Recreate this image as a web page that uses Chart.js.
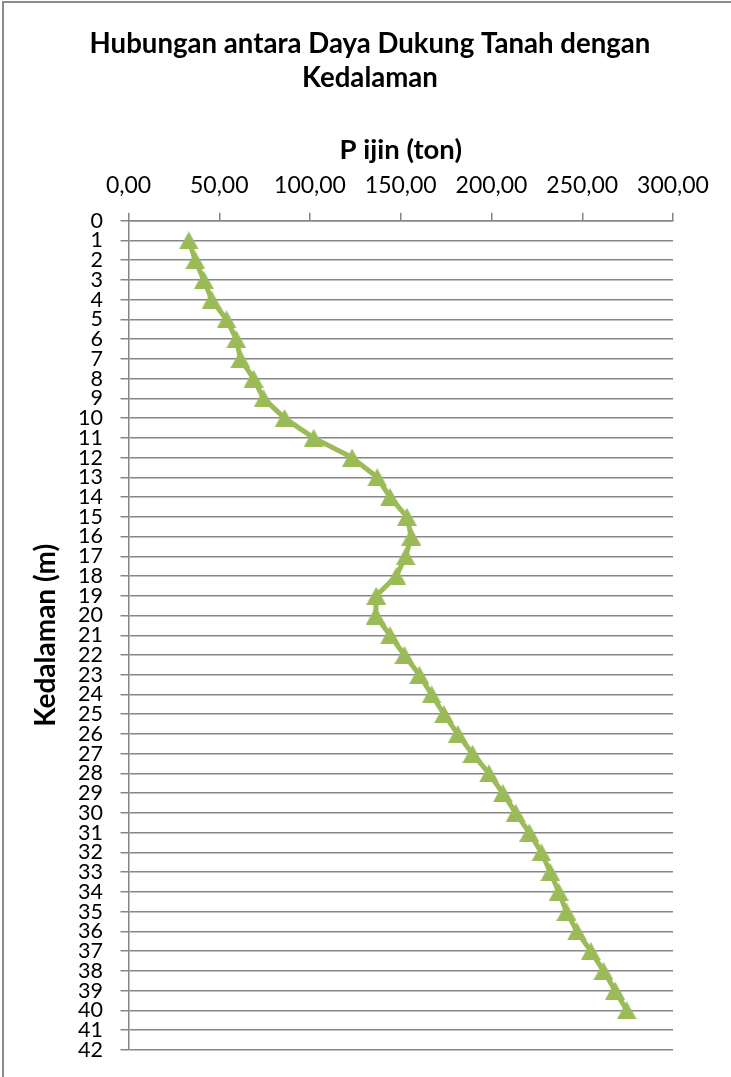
<!DOCTYPE html>
<html>
<head>
<meta charset="utf-8">
<script src="https://cdn.jsdelivr.net/npm/chart.js@4"></script>
<style>
  html, body { margin: 0; padding: 0; background: #fff; overflow: hidden; width: 731px; height: 1077px; }
  #frame { position: absolute; left: 2px; top: 1px; width: 760px; height: 1100px;
           border-left: 2px solid #8c8c8c; border-top: 2px solid #8c8c8c; }
  #wrap { position: absolute; left: 0; top: 0; width: 740px; height: 1077px; }
</style>
</head>
<body>
<div id="frame"></div>
<div id="wrap"><canvas id="chart" width="740" height="1077"></canvas></div>
<script>
// Depth below ground (m)
const kedalaman = [1, 2, 3, 4, 5, 6, 7, 8, 9, 10,
                   11, 12, 13, 14, 15, 16, 17, 18, 19, 20,
                   21, 22, 23, 24, 25, 26, 27, 28, 29, 30,
                   31, 32, 33, 34, 35, 36, 37, 38, 39, 40];

// Allowable bearing capacity P ijin (ton) at each depth
const pIjin = [33.2, 36.8, 41.5, 45.8, 54.0, 59.4, 61.7, 68.9, 74.4, 86.0,
               102.0, 123.2, 137.0, 144.1, 153.4, 155.8, 152.7, 147.6, 136.5, 136.2,
               144.1, 152.0, 160.2, 167.0, 173.8, 181.4, 189.5, 198.6, 206.3, 213.3,
               220.8, 227.5, 232.4, 237.0, 241.3, 247.1, 254.7, 261.7, 268.1, 274.5];

const chartTitle = ['Hubungan antara Daya Dukung Tanah dengan', 'Kedalaman'];
const xTitle = 'P ijin (ton)';
const yTitle = 'Kedalaman (m)';

const GREEN = '#9BBB59';
const GRID = '#868686';
const FONT = 'Lato';

// Triangle marker, centred on its bounding box
function triangleMarker(w, h, color) {
  const c = document.createElement('canvas');
  c.width = w; c.height = h;
  const g = c.getContext('2d');
  g.fillStyle = color;
  g.beginPath();
  g.moveTo(w / 2, 0);
  g.lineTo(w, h);
  g.lineTo(0, h);
  g.closePath();
  g.fill();
  return c;
}

const points = kedalaman.map((d, i) => ({ x: pIjin[i], y: d }));
const marker = triangleMarker(20, 18, GREEN);

new Chart(document.getElementById('chart'), {
  type: 'line',
  data: {
    datasets: [{
      data: points,
      borderColor: GREEN,
      backgroundColor: GREEN,
      borderWidth: 5,
      borderJoinStyle: 'round',
      borderCapStyle: 'round',
      pointStyle: marker,
      pointRadius: 10,
      pointHoverRadius: 10,
      fill: false,
      tension: 0,
      clip: false
    }]
  },
  options: {
    responsive: false,
    animation: false,
    layout: { padding: { left: 0, right: 0, top: 0, bottom: 26 } },
    plugins: {
      legend: { display: false },
      tooltip: { enabled: false },
      title: {
        display: true,
        text: chartTitle,
        color: '#000',
        font: { family: FONT, size: 27.6, weight: 'bold', lineHeight: 1.232 },
        padding: { top: 27, bottom: 0 }
      }
    },
    scales: {
      x: {
        type: 'linear',
        position: 'top',
        min: 0,
        max: 300,
        ticks: {
          stepSize: 50,
          color: '#000',
          padding: 15.2,
          font: { family: FONT, size: 23, lineHeight: 1.0 },
          callback: v => v.toFixed(2).replace('.', ',')
        },
        grid: {
          drawOnChartArea: false,
          drawTicks: true,
          tickLength: 8,
          color: GRID,
          lineWidth: 1.5
        },
        border: { display: true, color: GRID, width: 1.5 },
        title: {
          display: true,
          text: xTitle,
          color: '#000',
          font: { family: FONT, size: 27.5, weight: 'bold', lineHeight: 0.68 },
          padding: { top: 45.6, bottom: 0 }
        },
        afterFit: s => { s.paddingRight = 67; }
      },
      y: {
        type: 'linear',
        position: 'left',
        reverse: true,
        min: 0,
        max: 42,
        ticks: {
          stepSize: 1,
          autoSkip: false,
          color: '#000',
          padding: 17.5,
          font: { family: FONT, size: 21.5, lineHeight: 0.9 }
        },
        grid: {
          drawOnChartArea: true,
          drawTicks: true,
          tickLength: 8,
          color: GRID,
          lineWidth: 1.5
        },
        border: { display: true, color: GRID, width: 1.5 },
        title: {
          display: true,
          text: yTitle,
          color: '#000',
          font: { family: FONT, size: 28, weight: 'bold', lineHeight: 1.2 },
          padding: { top: 28.7, bottom: 0 }
        },
        afterFit: s => { s.width = 128.5; }
      }
    }
  }
});
</script>
</body>
</html>
